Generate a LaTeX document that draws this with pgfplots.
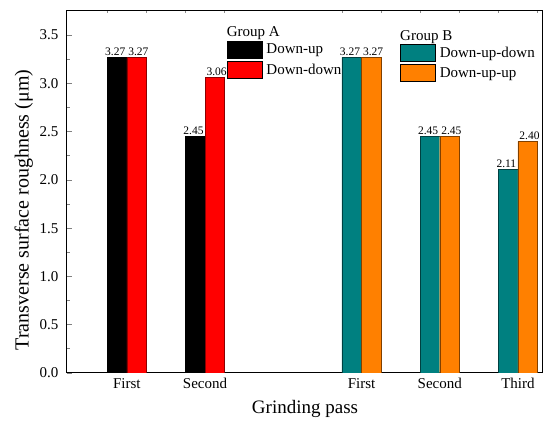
\documentclass[border=0pt]{standalone}
\usepackage{fontspec}
\setmainfont{Liberation Serif}
\usepackage{pgfplots}
\pgfplotsset{compat=1.18}

\definecolor{barteal}{HTML}{008080}
\definecolor{barorange}{HTML}{FF8000}

% shared frame of both axes: same box, same ranges, same bar layout
\pgfplotsset{
  common/.style={
    scale only axis, width=476pt, height=362pt,
    xmin=0.235, xmax=6.32, ymin=0, ymax=3.75,
    /pgf/number format/assume math mode=true,
    ybar=0pt, bar width=0.25,
    nodes near coords={\pgfmathprintnumber[fixed,fixed zerofill,precision=2]{\pgfplotspointmeta}},
    nodes near coords style={font=\fontsize{11.5}{13}\selectfont, inner sep=1.5pt},
    legend cell align=left,
    legend style={draw=none, fill=none, inner sep=0pt, outer sep=0pt,
      row sep=2.5pt, column sep=4pt, nodes={inner sep=0pt},
      font=\fontsize{15}{17}\selectfont},
  },
  box legend/.style={legend image code/.code={%
      \draw[##1, line width=0.8pt] (0pt,-8.5pt) rectangle (35pt,8.5pt);}},
  % value labels of a bar pair are pushed slightly apart
  left bar/.style={bar shift=-0.125, every node near coord/.append style={xshift=-1.8pt}},
  right bar/.style={bar shift=0.125, every node near coord/.append style={xshift=1.8pt}},
}

\begin{document}
\begin{tikzpicture}
\useasboundingbox (-67pt,-50pt) rectangle (477pt,373pt);

% Group A, with the visible frame, ticks and labels
\begin{axis}[
  common,
  axis line style={line width=1pt},
  ytick={0,0.5,...,3.5}, minor y tick num=1,
  yticklabel style={xshift=-5pt, /pgf/number format/.cd, fixed, fixed zerofill, precision=1},
  tick align=inside, ytick pos=left,
  major tick length=5pt, minor tick length=3pt,
  tick style={line width=0.8pt},
  xtick={1,2,4,5,6}, xticklabels={First,Second,First,Second,Third},
  xtick pos=bottom, major x tick style={draw=none},
  xticklabel style={yshift=-2pt},
  ticklabel style={font=\fontsize{15}{17}\selectfont},
  xlabel={Grinding pass},
  ylabel={Transverse surface roughness (μm)},
  xlabel style={font=\fontsize{19}{21}\selectfont, yshift=-4pt},
  ylabel style={font=\fontsize{20}{22}\selectfont, at={(ticklabel cs:0.4586)}, xshift=-3pt},
  legend style={at={(rel axis cs:0.3355,0.918)}, anchor=north west,
    label={[anchor=base west, inner sep=0pt, yshift=4pt,
      font=\fontsize{15}{17}\selectfont]north west:Group A}},
]
\addlegendimage{box legend, fill=black, draw=black}
\addlegendentry{Down-up}
\addlegendimage{box legend, fill=red, draw=black}
\addlegendentry{Down-down}
\addplot[fill=black, draw=black, left bar, forget plot]
  coordinates {(1,3.27) (2,2.45)};
\addplot[fill=red, draw=red!55!black, right bar, forget plot]
  coordinates {(1,3.27) (2,3.06)};
\end{axis}

% Group B, drawn over the same box; carries the small top ticks
\begin{axis}[
  common,
  axis x line*=top, axis y line=none,
  axis line style={line width=1pt},
  xtick={0.75,1.25,1.75,2.25,3.75,4.25,4.75,5.25,5.75,6.25},
  xticklabels={}, tick align=inside, major tick length=2.5pt,
  tick style={black!45, line width=0.5pt},
  legend style={at={(rel axis cs:0.6996,0.9088)}, anchor=north west,
    label={[anchor=base west, inner sep=0pt, yshift=4pt,
      font=\fontsize{15}{17}\selectfont]north west:Group B}},
]
\addlegendimage{box legend, fill=barteal, draw=black}
\addlegendentry{Down-up-down}
\addlegendimage{box legend, fill=barorange, draw=black}
\addlegendentry{Down-up-up}
\addplot[fill=barteal, draw=barteal!50!black, left bar, forget plot]
  coordinates {(4,3.27) (5,2.45) (6,2.11)};
\addplot[fill=barorange, draw=barorange!50!black, right bar, forget plot]
  coordinates {(4,3.27) (5,2.45) (6,2.40)};
\end{axis}
\end{tikzpicture}
\end{document}
